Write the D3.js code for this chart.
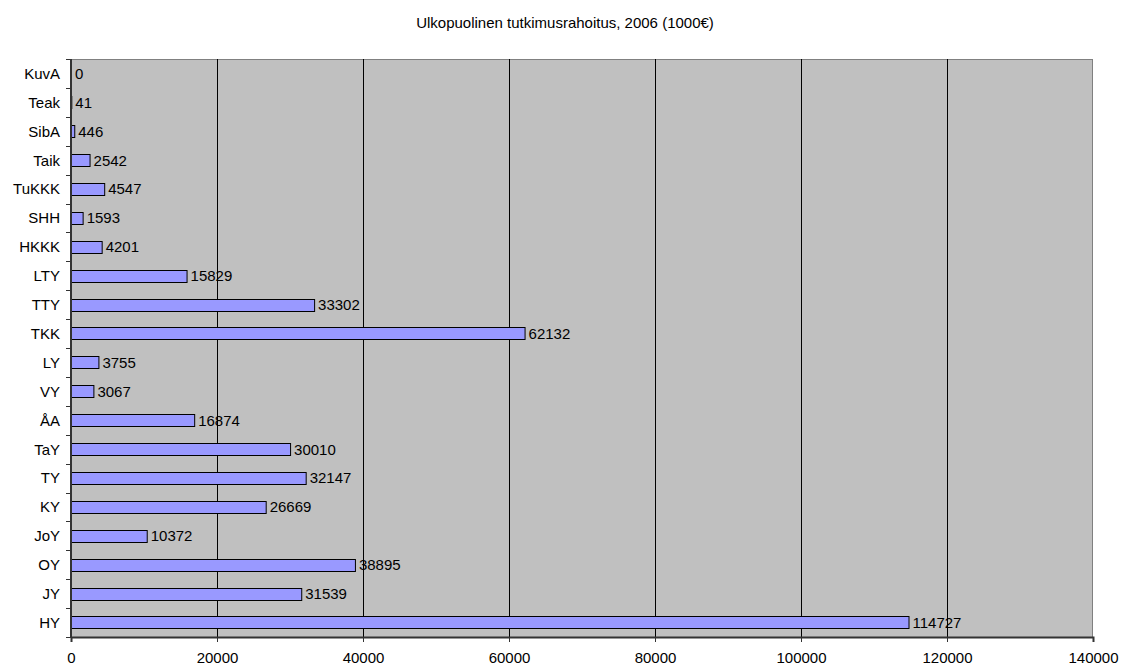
<!DOCTYPE html>
<html>
<head>
<meta charset="utf-8">
<script src="https://cdn.jsdelivr.net/npm/d3@7"></script>
<style>
  body { margin: 0; background: #fff; }
  svg { font-family: "Liberation Sans", Arial, sans-serif; }
</style>
</head>
<body>
<svg id="chart" width="1121" height="666"></svg>
<script>
// categories, top to bottom
const categories = ["KuvA", "Teak", "SibA", "Taik", "TuKKK", "SHH", "HKKK", "LTY", "TTY", "TKK",
  "LY", "VY", "ÅA", "TaY", "TY", "KY", "JoY", "OY", "JY", "HY"];
const values = [0, 41, 446, 2542, 4547, 1593, 4201, 15829, 33302, 62132,
  3755, 3067, 16874, 30010, 32147, 26669, 10372, 38895, 31539, 114727];
const xTicks = [0, 20000, 40000, 60000, 80000, 100000, 120000, 140000];
const title = "Ulkopuolinen tutkimusrahoitus, 2006 (1000€)";

var svg = d3.select("#chart"),
  margin = { top: 59, right: 28, bottom: 29, left: 71 },
  width = +svg.attr("width") - margin.left - margin.right,
  height = +svg.attr("height") - margin.top - margin.bottom;

var x = d3.scaleLinear().domain([0, 140000]).range([0, width]);
var y = d3.scaleBand().domain(categories).range([0, height]).paddingInner(0.58).paddingOuter(0.29);

svg.append("text")
  .attr("x", 565).attr("y", 28)
  .attr("text-anchor", "middle")
  .style("font-size", "15px")
  .text(title);

var g = svg.append("g").attr("transform", "translate(" + margin.left + "," + margin.top + ")");

g.append("rect").attr("x", 0.5).attr("y", 0.5).attr("width", width - 1).attr("height", height)
  .attr("fill", "#c0c0c0").attr("stroke", "#808080").attr("stroke-width", 1);

// gridlines (none at the right edge)
g.selectAll(".grid").data(xTicks.slice(1, -1))
  .enter().append("line")
  .attr("x1", d => Math.round(x(d)) + 0.5).attr("x2", d => Math.round(x(d)) + 0.5)
  .attr("y1", 0).attr("y2", height)
  .attr("stroke", "#000").attr("stroke-width", 1);

// bars
g.selectAll(".bar").data(values)
  .enter().append("rect")
  .attr("class", "bar")
  .attr("x", 0.5)
  .attr("y", (d, i) => Math.round(y(categories[i])) + 0.5)
  .attr("width", d => Math.max(0, x(d)))
  .attr("height", Math.round(y.bandwidth()))
  .attr("fill", "#9999ff")
  .attr("stroke", "#000")
  .attr("stroke-width", 1)
  .style("display", d => d === 0 ? "none" : null);

// value labels
g.selectAll(".lbl").data(values)
  .enter().append("text")
  .attr("x", d => x(d) + 4)
  .attr("y", (d, i) => y(categories[i]) + y.bandwidth() / 2)
  .attr("dy", "0.36em")
  .style("font-size", "15px")
  .text(d => d);

// x axis
var xAxis = g.append("g")
  .attr("transform", "translate(0," + height + ")")
  .call(d3.axisBottom(x).tickValues(xTicks).tickFormat(d3.format("d")).tickSizeOuter(0).tickSize(5).tickPadding(10));
xAxis.select(".domain").attr("stroke", "#333").attr("stroke-width", 2);
xAxis.selectAll(".tick line").attr("stroke", "#333");
xAxis.selectAll("text").style("font-size", "15px").attr("fill", "#000");

// y axis: ticks at category boundaries
var ya = g.append("g");
ya.append("line").attr("x1", 0).attr("x2", 0).attr("y1", 0).attr("y2", height + 1)
  .attr("stroke", "#333").attr("stroke-width", 2);
d3.range(categories.length + 1).forEach(function(i) {
  var yy = Math.round(i * height / categories.length) + 0.5;
  ya.append("line").attr("x1", -5).attr("x2", 0).attr("y1", yy).attr("y2", yy).attr("stroke", "#333");
});
ya.selectAll("text").data(categories)
  .enter().append("text")
  .attr("x", -11)
  .attr("y", d => y(d) + y.bandwidth() / 2)
  .attr("dy", "0.36em")
  .attr("text-anchor", "end")
  .style("font-size", "15px")
  .text(d => d);
</script>
</body>
</html>
